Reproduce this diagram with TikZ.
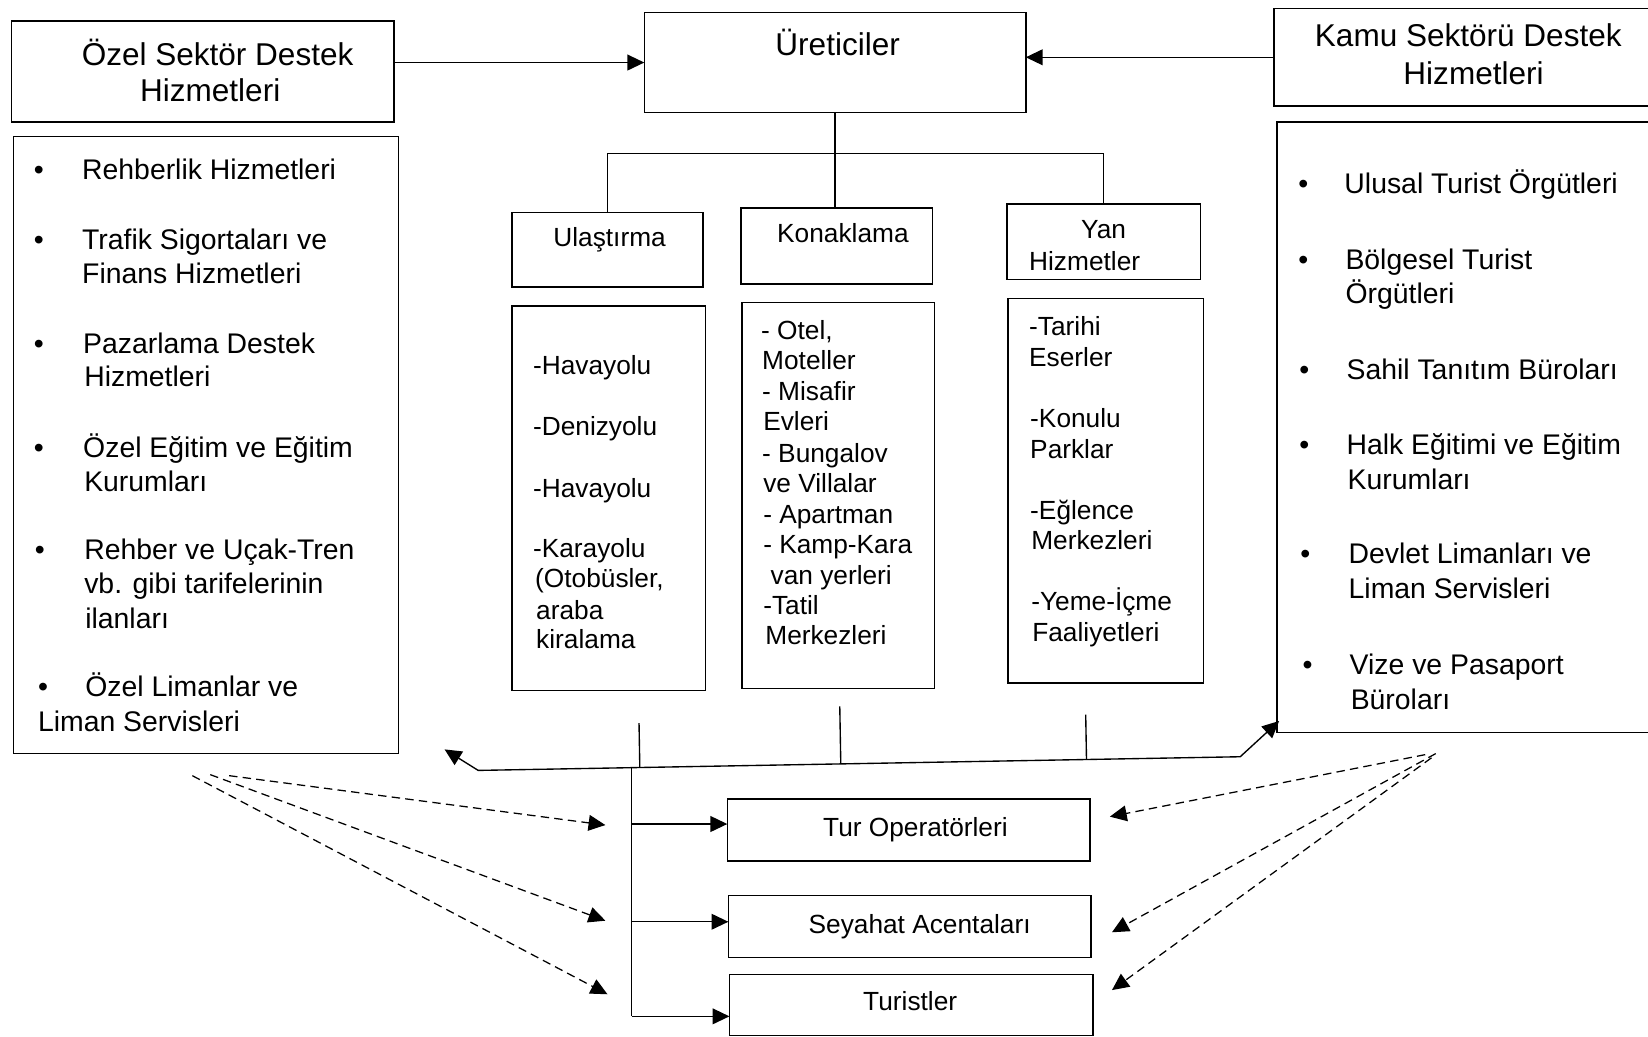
\documentclass[tikz,border=0pt]{standalone}
\usepackage{fontspec}
\setmainfont{Liberation Sans}
\usetikzlibrary{arrows.meta,calc}
\begin{document}
\begin{tikzpicture}[x=1pt,y=-1pt,
  frame/.style={draw, line width=1.4pt, inner sep=0pt, outer sep=0pt},
  head/.style={font=\fontsize{30}{36}\selectfont, anchor=base, inner sep=0pt},
  listtxt/.style={font=\fontsize{27}{33}\selectfont, anchor=base west, inner sep=0pt},
  subtxt/.style={font=\fontsize{25}{29}\selectfont, anchor=base west, inner sep=0pt},
  cattxt/.style={font=\fontsize{25}{29}\selectfont, anchor=base, inner sep=0pt},
  dot/.style={font=\fontsize{27}{33}\selectfont, anchor=base, inner sep=0pt},
  link/.style={line width=1.3pt},
  tipend/.style={-{Triangle[length=16pt,width=15pt]}},
  flow/.style={link, tipend},
  hint/.style={line width=1.2pt, dash pattern=on 8pt off 5pt, tipend}
]
\useasboundingbox (0,0) rectangle (1568,986);
\clip (0,0) rectangle (1568,986);
\fill[white] (0,0) rectangle (1568,986);

% ---------- top row ----------
\node[frame, minimum width=364pt, minimum height=96pt] (ozel) at (193,68) {};
\node[frame, minimum width=363pt, minimum height=95pt] (uret) at (794.5,59.5) {};
\node[frame, minimum width=378pt, minimum height=93pt] (kamu) at (1401,54.5) {};

\node[head] (ozelA) at (207,62) {Özel Sektör Destek};
\node[head] (ozelB) at (200,97) {Hizmetleri};
\node[head] (uretT) at (797,53) {Üreticiler};
\node[head] (kamuA) at (1397,44) {Kamu Sektörü Destek};
\node[head] (kamuB) at (1402,80) {Hizmetleri};

\draw[flow] (ozel.east |- uret.west) -- (uret.west);
\draw[flow] (kamu.west) -- (kamu.west -| uret.east);

% ---------- side lists ----------
\node[frame, minimum width=366pt, minimum height=587pt] (ozelL) at (196,423.5) {};
\node[frame, minimum width=375pt, minimum height=581pt] (kamuL) at (1402.5,406.5) {};

\foreach \t/\x/\y [count=\i] in {
  Rehberlik Hizmetleri/78/161,
  Trafik Sigortaları ve/78/227,
  Finans Hizmetleri/78/260,
  Pazarlama Destek/79/326,
  Hizmetleri/80/358,
  Özel Eğitim ve Eğitim/79/425,
  Kurumları/80/458,
  Rehber ve Uçak-Tren/80/522,
  vb. gibi tarifelerinin/80/555,
  ilanları/81/588,
  Özel Limanlar ve/81/653,
  Liman Servisleri/36/686}
  \node[listtxt] (ol\i) at (\x,\y+10) {\t};
\foreach \x/\y [count=\i] in {37/161,37/227,37/326,37/425,38/522,41/653}
  \node[dot] (ob\i) at (\x,\y+10) {•};

\foreach \t/\x/\y [count=\i] in {
  Ulusal Turist Örgütleri/1279/174,
  Bölgesel Turist/1280/246,
  Örgütleri/1280/279,
  Sahil Tanıtım Büroları/1281/351,
  Halk Eğitimi ve Eğitim/1281/422,
  Kurumları/1282/456,
  Devlet Limanları ve/1283/526,
  Liman Servisleri/1283/559,
  Vize ve Pasaport/1284/632,
  Büroları/1285/665}
  \node[listtxt] (kl\i) at (\x,\y+10) {\t};
\foreach \x/\y [count=\i] in {1240/174,1240/246,1241/351,1241/422,1242/526,1244/632}
  \node[dot] (kb\i) at (\x,\y+10) {•};

% ---------- producer tree ----------
\node[frame, minimum width=182pt, minimum height=71pt] (ula) at (578,237.5) {};
\node[frame, minimum width=182pt, minimum height=72pt] (kon) at (796,234) {};
\node[frame, minimum width=184pt, minimum height=72pt] (yan) at (1050,230) {};
\node[cattxt] (ulaT) at (580,235) {Ulaştırma};
\node[cattxt] (konT) at (802,231) {Konaklama};
\node[cattxt] (yanA) at (1050,227) {Yan};
\node[cattxt] (yanB) at (1032,257) {Hizmetler};

\coordinate (bus) at (795,146);
\draw[link] (uret.south) -- (uret.south |- kon.north);
\draw[link] (ula.north) |- (bus) -| (yan.north);

\node[frame, minimum width=184pt, minimum height=366pt] (ulaL) at (579,474) {};
\node[frame, minimum width=183pt, minimum height=367pt] (konL) at (797.5,471.5) {};
\node[frame, minimum width=186pt, minimum height=366pt] (yanL) at (1052,467) {};

\foreach \t/\x/\y [count=\i] in {
  -Havayolu/507/347,
  -Denizyolu/507/405,
  -Havayolu/507/464,
  -Karayolu/507/521,
  {(Otobüsler,}/509/550,
  araba/510/580,
  kiralama/510/608}
  \node[subtxt] (ut\i) at (\x,\y+9) {\t};

\foreach \t/\x/\y [count=\i] in {
  {- Otel,}/724/314,
  Moteller/725/343,
  - Misafir/725/372,
  Evleri/726/401,
  - Bungalov/725/431,
  ve Villalar/726/460,
  - Apartman/726/489,
  - Kamp-Kara/726/518,
  van yerleri/733/547,
  -Tatil/726/576,
  Merkezleri/728/604}
  \node[subtxt] (kt\i) at (\x,\y+9) {\t};

\foreach \t/\x/\y [count=\i] in {
  -Tarihi/979/310,
  Eserler/979/340,
  -Konulu/980/398,
  Parklar/980/427,
  -Eğlence/980/485,
  Merkezleri/981/514,
  -Yeme-İçme/981/572,
  Faaliyetleri/982/601}
  \node[subtxt] (yt\i) at (\x,\y+9) {\t};

% ---------- distribution ----------
\node[frame, minimum width=345pt, minimum height=59pt] (tur) at (864.5,789.5) {};
\node[frame, minimum width=345pt, minimum height=59pt] (sey) at (865.5,881.5) {};
\node[frame, minimum width=346pt, minimum height=58pt] (tst) at (867,956) {};
\node[cattxt] (turT) at (871,796) {Tur Operatörleri};
\node[cattxt] (seyT) at (875,888) {Seyahat Acentaları};
\node[cattxt] (tstT) at (866,961) {Turistler};

% collecting line under the three groups
\coordinate (bl) at (455,733);
\coordinate (br) at (1180,720);
\coordinate (al) at (423,713);
\coordinate (ar) at (1217,686);
\draw[link, {Triangle[length=16pt,width=15pt]}-{Triangle[length=16pt,width=15pt]}]
  (al) -- (bl) -- (br) -- (ar);

\coordinate (d1) at (608,688);
\coordinate (d2) at (799,672);
\coordinate (d3) at (1033,680);
\draw[link] (d1) -- ($(bl)!(d1)!(br)$);
\draw[link] (d2) -- ($(bl)!(d2)!(br)$);
\draw[link] (d3) -- ($(bl)!(d3)!(br)$);

\coordinate (tt) at (601,730.5);
\coordinate (tb) at (601,967);
\draw[link] (tt) -- (tb);
\coordinate (e1) at ($(tur.west)+(0,-5.5)$);
\coordinate (e2) at ($(sey.west)+(0,-4.5)$);
\coordinate (e3) at ($(tst.west)+(0,11)$);
\draw[flow] (e1 -| tt) -- (e1);
\draw[flow] (e2 -| tt) -- (e2);
\draw[flow] (e3 -| tt) -- (e3);

% dashed influence lines
\coordinate (pl1) at (218,738);
\coordinate (pl2) at (200,737);
\coordinate (pl3) at (183,738);
\coordinate (ql1) at (576,785);
\coordinate (ql2) at (576,876);
\coordinate (ql3) at (578,946);
\draw[hint] (pl1) -- (ql1);
\draw[hint] (pl2) -- (ql2);
\draw[hint] (pl3) -- (ql3);

\coordinate (pr1) at (1356,718);
\coordinate (pr2) at (1366,717);
\coordinate (pr3) at (1362,721);
\coordinate (qr1) at (1056,777);
\coordinate (qr2) at (1058,887);
\coordinate (qr3) at (1058,942);
\draw[hint] (pr1) -- (qr1);
\draw[hint] (pr2) -- (qr2);
\draw[hint] (pr3) -- (qr3);
\end{tikzpicture}
\end{document}
